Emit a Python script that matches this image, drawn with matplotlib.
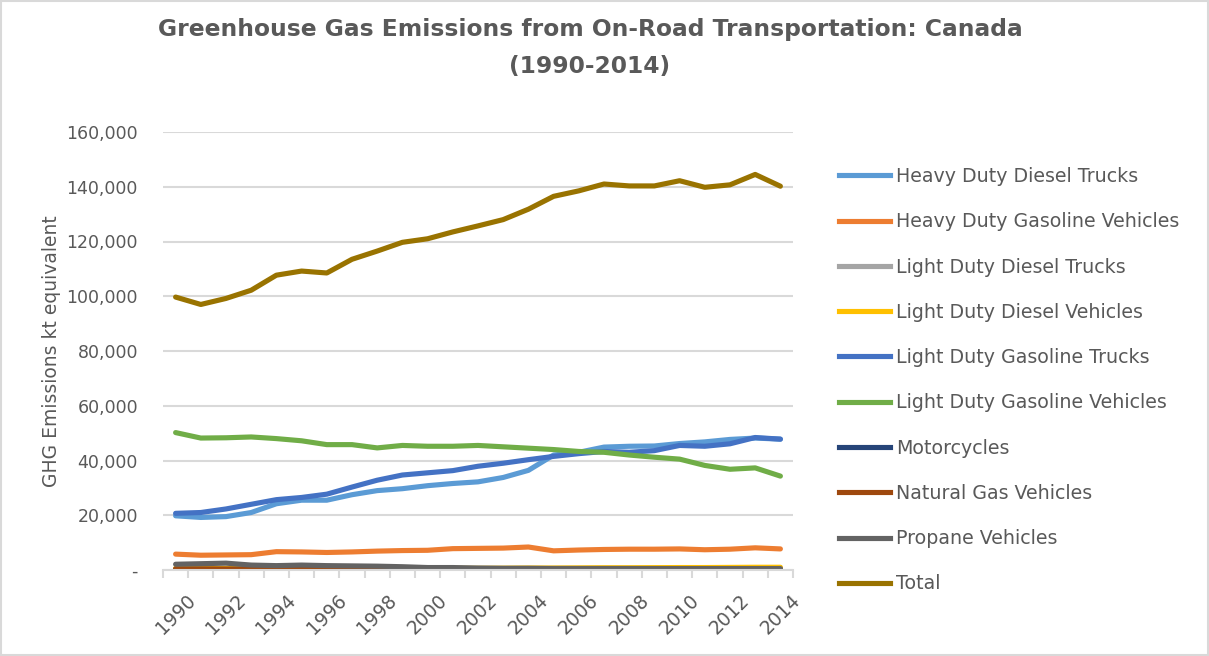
import numpy as np
import matplotlib
matplotlib.use("Agg")
import matplotlib.pyplot as plt
import matplotlib.ticker as mticker
from matplotlib.lines import Line2D

years = list(range(1990, 2015))

heavy_diesel_trucks = [19800, 19200, 19500, 21000, 24200, 25500, 25500, 27500, 29000, 29700,
                       30800, 31600, 32200, 33800, 36400, 42000, 43000, 44900, 45200, 45300,
                       46200, 46800, 47700, 48200, 47800]
heavy_gasoline = [5800, 5400, 5500, 5600, 6700, 6600, 6400, 6600, 6900, 7100,
                  7200, 7800, 7900, 8000, 8400, 7000, 7300, 7500, 7600, 7600,
                  7700, 7400, 7600, 8100, 7700]
light_diesel_trucks = [500, 500, 500, 500, 550, 550, 550, 600, 600, 600,
                       600, 650, 650, 650, 700, 700, 700, 750, 750, 750,
                       800, 800, 800, 850, 850]
light_diesel_vehicles = [600, 600, 600, 550, 550, 550, 550, 550, 550, 550,
                         550, 600, 600, 650, 700, 700, 750, 800, 800, 850,
                         900, 900, 950, 1000, 1000]
light_gasoline_trucks = [20700, 21000, 22300, 24000, 25700, 26500, 27700, 30300, 32800, 34700,
                         35500, 36300, 37900, 39000, 40300, 41500, 42500, 43300, 43000, 43600,
                         45500, 45200, 46100, 48400, 47800]
light_gasoline_vehicles = [50200, 48200, 48300, 48600, 48000, 47200, 45800, 45800, 44600, 45500,
                           45200, 45200, 45500, 45000, 44500, 44000, 43300, 43000, 42000, 41200,
                           40500, 38200, 36800, 37300, 34300]
motorcycles = [200, 200, 200, 200, 200, 200, 200, 200, 250, 250,
               250, 250, 250, 250, 250, 250, 250, 300, 300, 300,
               300, 300, 300, 300, 300]
natural_gas = [400, 400, 350, 350, 300, 300, 300, 250, 250, 200,
               150, 150, 100, 100, 100, 100, 100, 100, 100, 100,
               100, 100, 100, 100, 100]
propane = [2100, 2300, 2500, 1800, 1600, 1800, 1600, 1500, 1400, 1200,
           900, 900, 700, 600, 600, 500, 500, 500, 500, 500,
           500, 500, 500, 500, 500]
total = [99700, 97000, 99200, 102200, 107700, 109200, 108500, 113500, 116500, 119700,
         121000, 123500, 125700, 128000, 131800, 136500, 138500, 141000, 140300, 140300,
         142200, 139800, 140700, 144500, 140200]

series = [
    ("Heavy Duty Diesel Trucks", heavy_diesel_trucks, "#5b9bd5"),
    ("Heavy Duty Gasoline Vehicles", heavy_gasoline, "#ed7d31"),
    ("Light Duty Diesel Trucks", light_diesel_trucks, "#a5a5a5"),
    ("Light Duty Diesel Vehicles", light_diesel_vehicles, "#ffc000"),
    ("Light Duty Gasoline Trucks", light_gasoline_trucks, "#4472c4"),
    ("Light Duty Gasoline Vehicles", light_gasoline_vehicles, "#70ad47"),
    ("Motorcycles", motorcycles, "#264478"),
    ("Natural Gas Vehicles", natural_gas, "#9e480e"),
    ("Propane Vehicles", propane, "#636363"),
    ("Total", total, "#997300"),
]

text_col = "#595959"
grid_col = "#d9d9d9"

fig = plt.figure(figsize=(12.09, 6.56), dpi=100)
ax = fig.add_axes([163 / 1209, 1 - 570 / 656, (793 - 163) / 1209, (570 - 132) / 656])

x = np.arange(len(years))
for name, vals, col in series:
    ax.plot(x, vals, color=col, lw=3.7, solid_capstyle="round", solid_joinstyle="round", label=name)

ax.set_xlim(-0.5, len(years) - 0.5)
ax.set_ylim(0, 160000)
ax.yaxis.set_major_locator(mticker.MultipleLocator(20000))
ax.yaxis.set_major_formatter(mticker.FuncFormatter(lambda v, p: "-" if v == 0 else f"{int(v):,}"))
ax.grid(axis="y", color=grid_col, lw=1.5)
ax.set_axisbelow(True)
for s in ["top", "right", "left"]:
    ax.spines[s].set_visible(False)
ax.spines["bottom"].set_color(grid_col)
ax.spines["bottom"].set_linewidth(1.5)
ax.tick_params(axis="y", length=0, labelsize=12.5, labelcolor=text_col, pad=18)

ax.set_xticks(x[::2])
ax.set_xticklabels([str(y) for y in years[::2]], rotation=45, ha="center",
                   fontsize=13.5, color=text_col)
ax.set_xticks(np.arange(-0.5, len(years), 1), minor=True)
ax.tick_params(axis="x", which="major", length=0, pad=15)
ax.tick_params(axis="x", which="minor", length=6, color=grid_col, width=1.5)

ax.set_ylabel("GHG Emissions kt equivalent", fontsize=13.5, color=text_col, labelpad=4)

fig.suptitle("Greenhouse Gas Emissions from On-Road Transportation: Canada\n(1990-2014)",
             fontsize=16.8, fontweight="bold", color=text_col, y=0.972, x=590 / 1209,
             linespacing=1.75)

handles = [Line2D([], [], color=c, lw=3.7) for _, _, c in series]
leg = fig.legend(handles, [s[0] for s in series], loc="upper left",
                 bbox_to_anchor=(822 / 1209, 1 - 150 / 656), frameon=False,
                 fontsize=13.7, labelspacing=1.38, handlelength=2.65, handletextpad=0.32)
for t in leg.get_texts():
    t.set_color(text_col)

fig.patches.append(plt.Rectangle((0.001, 0.001), 0.998, 0.998, transform=fig.transFigure,
                                 fill=False, edgecolor=grid_col, lw=1.5))

fig.savefig("out.png", dpi=100)
